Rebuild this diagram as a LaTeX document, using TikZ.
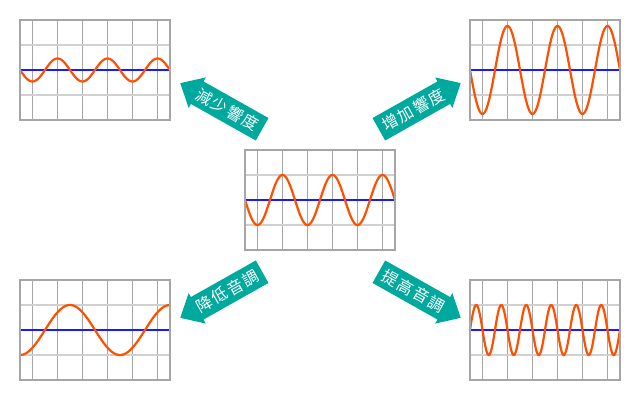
\documentclass[tikz,border=0pt]{standalone}
\usepackage{fontspec}
\newfontfamily\cjk[LetterSpace=9]{Noto Sans CJK TC}
\usepackage{xcolor}
\usepackage{tikz}
\usetikzlibrary{positioning}
\usetikzlibrary{shapes.arrows}
\definecolor{framegray}{HTML}{A6A6A6}
\definecolor{linegray}{HTML}{D0D0D0}
\definecolor{waveorange}{HTML}{FF5000}
\definecolor{zeroblue}{HTML}{1A1AFF}
\definecolor{arrowteal}{HTML}{00A99D}

\begin{document}
\begin{tikzpicture}[x=1pt, y=1pt, node distance=1cm, on grid,
      screen/.style={inner sep=0pt, outer sep=0pt, minimum width=150pt, minimum height=100pt},
      frame/.style={draw=framegray, line width=2pt},
      vline/.style={draw=framegray, line width=1pt},
      hline/.style={draw=linegray, line width=1.3pt},
      zero/.style={draw=zeroblue, line width=2pt},
      wave/.style={draw=waveorange, line width=2.2pt},
      fat/.style={single arrow, fill=arrowteal, text=white, inner xsep=0pt, inner ysep=5pt,
        font=\cjk\fontsize{16}{16}\selectfont, minimum height=94pt, minimum width=35pt,
        single arrow head extend=4.5pt, single arrow tip angle=84}]

      \useasboundingbox (0,0) rectangle (641,401);

      \node[screen] (orig) at (320,201) {};
      \node[screen] (soft) [above left=130pt and 225pt of orig] {};
      \node[screen] (loud) [above right=130pt and 225pt of orig] {};
      \node[screen] (low) [below left=130pt and 225pt of orig] {};
      \node[screen] (high) [below right=130pt and 225pt of orig] {};

      \foreach \b/\amp/\per/\ph in {orig/25/50/0, soft/11.5/50/0, loud/44/50/0, low/25/100/90, high/25/25/180} {
        \begin{scope}[shift={(\b.south west)}]
          \foreach \i in {0,...,5}
            \draw[vline] (12.5+25*\i,0) -- (12.5+25*\i,100);
          \draw[hline] (0,25) -- (150,25) (0,75) -- (150,75);
          \draw[zero] (0,50) -- (150,50);
          \draw[wave] plot[domain=0:150, samples=300, smooth] (\x, {50-\amp*sin(360/\per*\x+\ph)});
        \end{scope}
        \draw[frame] (\b.south west) rectangle (\b.north east);
      }

      \node[fat, rotate=-29.4, shape border rotate=180] (quieter) [above left=117pt and 140pt of orig, anchor=tip] {減少響度};
      \node[fat, rotate=29.4] (louder) [above right=117pt and 141pt of orig, anchor=tip] {增加響度};
      \node[fat, rotate=29.4, shape border rotate=180] (lower) [below left=118pt and 140pt of orig, anchor=tip] {降低音調};
      \node[fat, rotate=-29.4] (higher) [below right=118pt and 141pt of orig, anchor=tip] {提高音調};

    \end{tikzpicture}
\end{document}
